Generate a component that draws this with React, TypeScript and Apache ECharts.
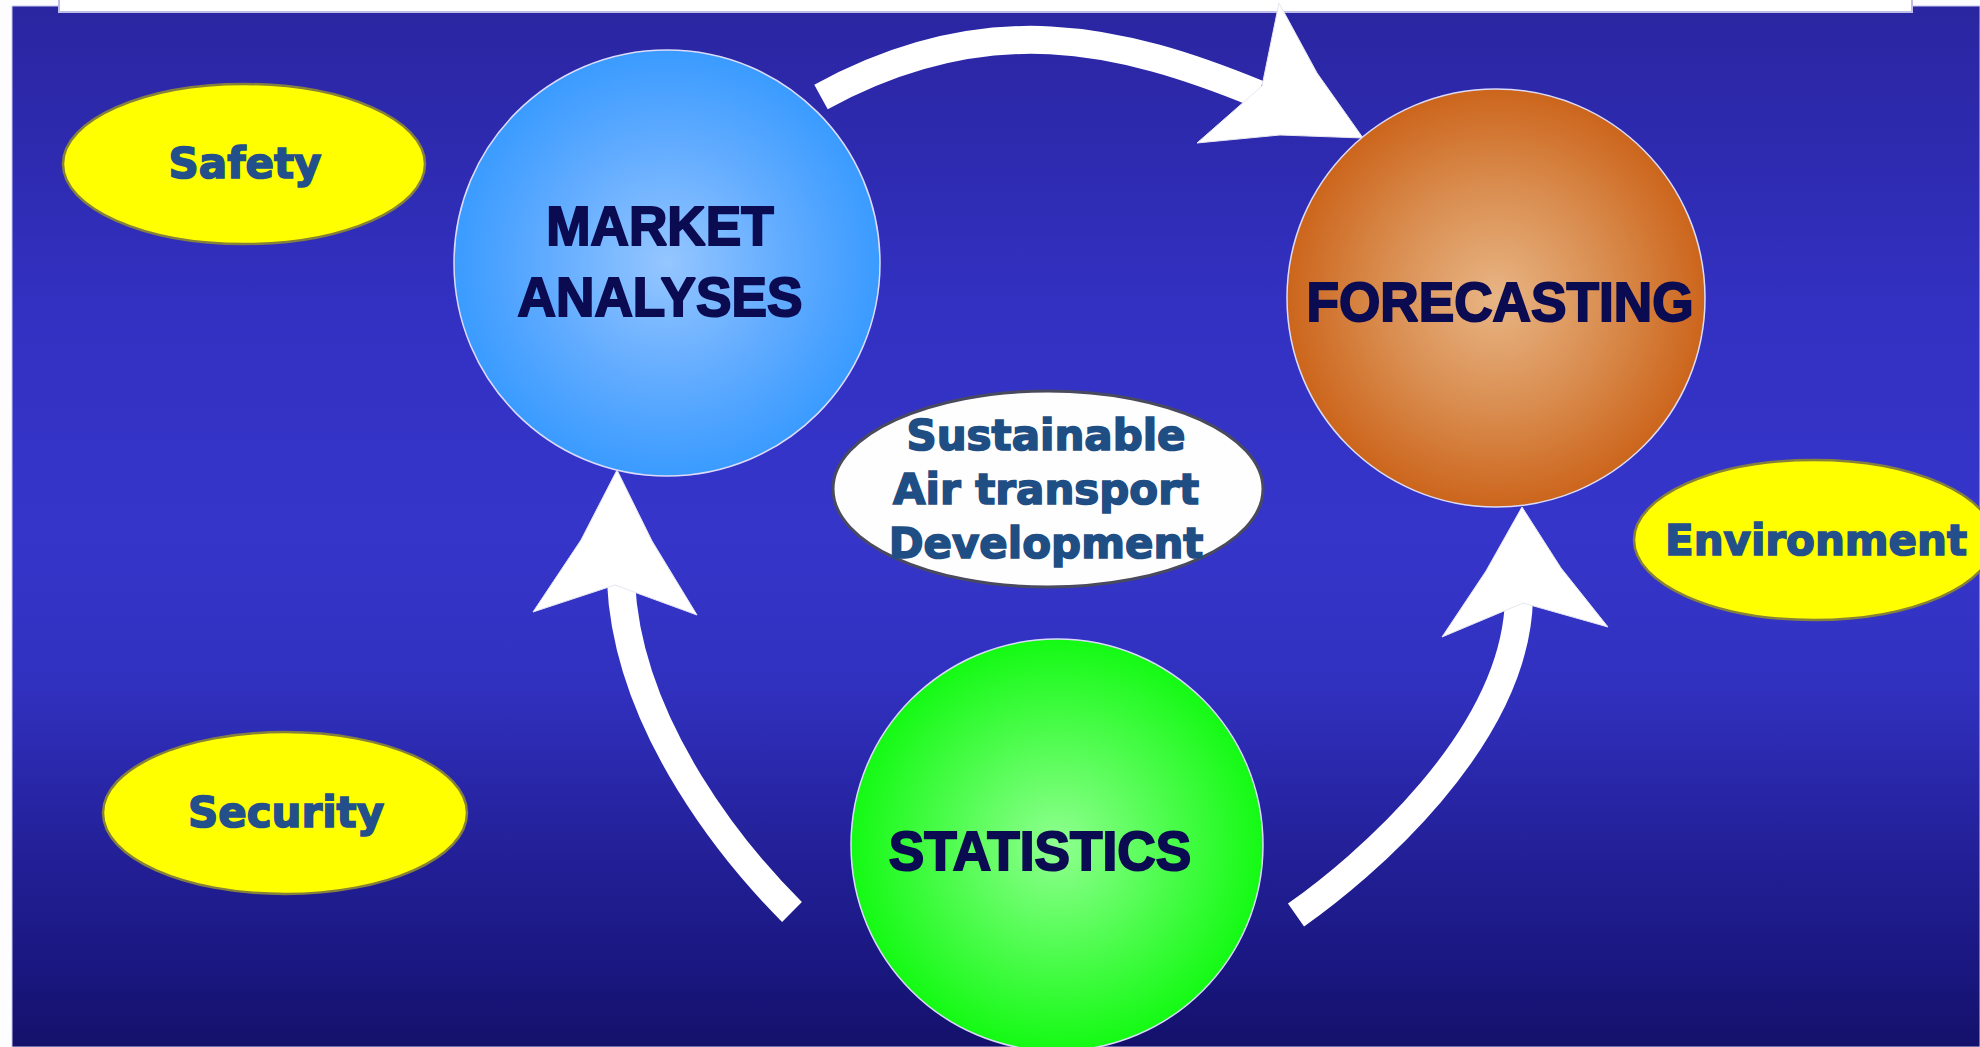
import React, { useEffect, useRef } from "react";
import * as echarts from "echarts";

// ---- content ----
const circleLabels = ["MARKET\nANALYSES", "FORECASTING", "STATISTICS"];
const pillarLabels = ["Safety", "Security", "Environment"];
const coreLines = ["Sustainable", "Air transport", "Development"];

// ---- layout (pixels) ----
const W = 1980;
const H = 1047;

const circleLayout = [
  { cx: 667, cy: 263, r: 213, tx: 660, ty: 262, edge: "#3a9bff", mid: "#62acff", center: "#95c6ff" },
  { cx: 1496, cy: 298, r: 209, tx: 1500, ty: 302, edge: "#cc651c", mid: "#d98c4e", center: "#e8b585" },
  { cx: 1057, cy: 845, r: 206, tx: 1040, ty: 851, edge: "#14fa14", mid: "#4cfc4c", center: "#90ff90" },
];

const pillarLayout = [
  { cx: 244, cy: 164, rx: 181, ry: 80, tx: 245, ty: 163 },
  { cx: 285, cy: 813, rx: 182, ry: 81, tx: 286, ty: 812 },
  { cx: 1814, cy: 540, rx: 180, ry: 80, tx: 1816, ty: 540 },
];

const coreLayout = { cx: 1048, cy: 489, rx: 215, ry: 98, tx: 1046, ty: 489, lh: 54 };

const shafts = [
  { x1: 821, y1: 97, cpx1: 987, cpy1: 6, cpx2: 1121, cpy2: 38, x2: 1258, y2: 94 },
  { x1: 792, y1: 912, cpx1: 740, cpy1: 860, cpx2: 628, cpy2: 730, x2: 621, y2: 582 },
  { x1: 1296, y1: 915, cpx1: 1360, cpy1: 870, cpx2: 1516, cpy2: 740, x2: 1519, y2: 598 },
];

const heads = [
  [[1279, 3], [1317, 73], [1363, 138], [1280, 135], [1197, 143], [1262, 86]],
  [[617, 470], [652, 541], [697, 615], [615, 585], [533, 612], [581, 540]],
  [[1522, 507], [1561, 568], [1608, 627], [1523, 603], [1442, 637], [1486, 571]],
];

export default function App() {
  const ref = useRef<HTMLDivElement>(null);

  useEffect(() => {
    document.body.style.margin = "0";
    document.body.style.overflow = "hidden";
    if (!ref.current) return;
    const chart = echarts.init(ref.current, undefined, { renderer: "svg" });

    const elements: any[] = [];

    // page background
    elements.push({
      type: "rect",
      silent: true,
      shape: { x: 0, y: 0, width: W, height: H },
      style: { fill: "#fdfdff" },
    });
    // blue slide background
    elements.push({
      type: "rect",
      silent: true,
      shape: { x: 12, y: 6, width: W - 12, height: H - 6 },
      style: {
        fill: new echarts.graphic.LinearGradient(0, 0, 0, 1, [
          { offset: 0, color: "#2a25a0" },
          { offset: 0.3, color: "#3231c2" },
          { offset: 0.5, color: "#3535ca" },
          { offset: 0.65, color: "#3131c0" },
          { offset: 0.8, color: "#24219b" },
          { offset: 0.92, color: "#1a1781" },
          { offset: 1, color: "#14116b" },
        ]),
        stroke: "#c8c8f0",
        lineWidth: 1,
      },
    });
    // white strip at the top
    elements.push({
      type: "rect",
      silent: true,
      shape: { x: 59, y: -4, width: 1853, height: 16 },
      style: { fill: "#ffffff", stroke: "#bdbde8", lineWidth: 2 },
    });

    // arrow shafts
    shafts.forEach((s) => {
      elements.push({
        type: "bezierCurve",
        silent: true,
        shape: s,
        style: { fill: null, stroke: "#ffffff", lineWidth: 28, lineCap: "butt" },
      });
    });
    // arrow heads
    heads.forEach((pts) => {
      elements.push({
        type: "polygon",
        silent: true,
        shape: { points: pts },
        style: { fill: "#ffffff", stroke: "#e6e6f2", lineWidth: 1 },
      });
    });

    // yellow pillars
    pillarLayout.forEach((p, i) => {
      elements.push({
        type: "ellipse",
        silent: true,
        shape: { cx: p.cx, cy: p.cy, rx: p.rx, ry: p.ry },
        style: { fill: "#ffff00", stroke: "#85803c", lineWidth: 2.5 },
      });
      elements.push({
        type: "text",
        silent: true,
        x: p.tx,
        y: p.ty,
        style: {
          text: pillarLabels[i],
          fill: "#23508b",
          stroke: "#23508b",
          lineWidth: 1.6,
          fontSize: 42,
          fontWeight: "bold",
          fontFamily: "DejaVu Sans",
          align: "center",
          verticalAlign: "middle",
          textAlign: "center",
          textVerticalAlign: "middle",
        },
      });
    });

    // core ellipse
    elements.push({
      type: "ellipse",
      silent: true,
      shape: { cx: coreLayout.cx, cy: coreLayout.cy, rx: coreLayout.rx, ry: coreLayout.ry },
      style: { fill: "#fefefe", stroke: "#4a4a5e", lineWidth: 3 },
    });
    elements.push({
      type: "text",
      silent: true,
      x: coreLayout.tx,
      y: coreLayout.ty,
      style: {
        text: coreLines.join("\n"),
        fill: "#1f4e84",
        stroke: "#1f4e84",
        lineWidth: 1.6,
        fontSize: 42,
        fontWeight: "bold",
        fontFamily: "DejaVu Sans",
        lineHeight: coreLayout.lh,
        align: "center",
        verticalAlign: "middle",
        textAlign: "center",
        textVerticalAlign: "middle",
      },
    });

    // big circles
    circleLayout.forEach((c, i) => {
      elements.push({
        type: "ellipse",
        silent: true,
        shape: { cx: c.cx, cy: c.cy, rx: c.r, ry: c.r },
        style: {
          fill: new echarts.graphic.RadialGradient(0.5, 0.5, 0.5, [
            { offset: 0, color: c.center },
            { offset: 0.55, color: c.mid },
            { offset: 1, color: c.edge },
          ]),
          stroke: "#dcdcfa",
          lineWidth: 1.5,
        },
      });
      elements.push({
        type: "text",
        silent: true,
        x: c.tx,
        y: c.ty,
        scaleX: 0.95,
        style: {
          text: circleLabels[i],
          fill: "#0b0b52",
          stroke: "#0b0b52",
          lineWidth: 2,
          fontSize: 56,
          fontWeight: "bold",
          fontFamily: "Liberation Sans",
          lineHeight: 71,
          align: "center",
          verticalAlign: "middle",
          textAlign: "center",
          textVerticalAlign: "middle",
        },
      });
    });

    chart.setOption({
      animation: false,
      graphic: { elements },
      series: [],
    });

    return () => chart.dispose();
  }, []);

  return <div ref={ref} style={{ width: W, height: H }} />;
}
